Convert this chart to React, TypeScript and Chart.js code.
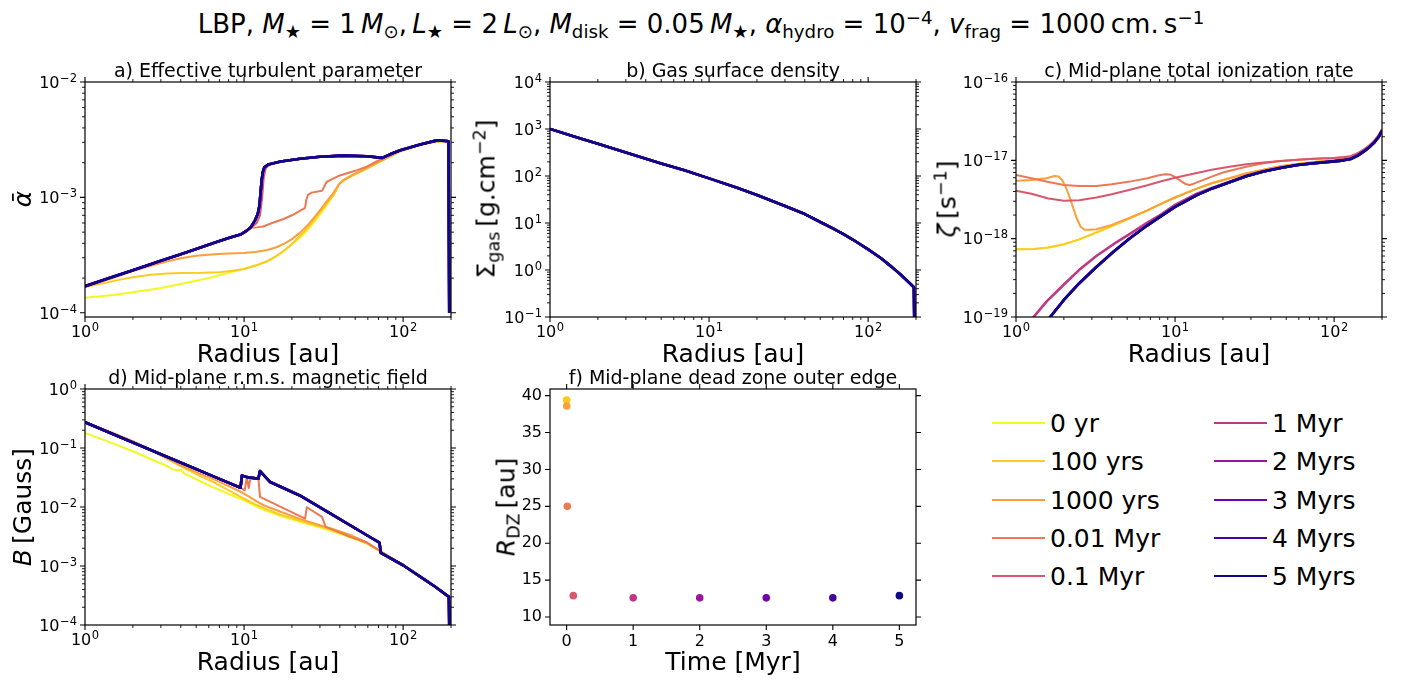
import React, { useEffect, useRef } from "react";
import { Chart, registerables } from "chart.js";

Chart.register(...registerables);

type Pt = [number, number];

const FONT = "'DejaVu Sans', sans-serif";
Chart.defaults.font.family = FONT;
Chart.defaults.color = "#000";

// ---------------- series ----------------
const seriesLabels = ["0 yr", "100 yrs", "1000 yrs", "0.01 Myr", "0.1 Myr", "1 Myr", "2 Myrs", "3 Myrs", "4 Myrs", "5 Myrs"];
const seriesColors = ["#f0f921", "#fcca27", "#fa9f3b", "#ec7953", "#d8576c", "#bd3785", "#9a179d", "#7203a7", "#45049e", "#0d0887"];

// ---------------- a) effective turbulent parameter [radius au, alpha] ----------------
const alpha0yr: Pt[] = [[1, 1.35e-4], [1.5, 1.43e-4], [2, 1.51e-4], [3, 1.64e-4], [4, 1.78e-4], [6, 2.0e-4], [8, 2.22e-4], [10, 2.41e-4], [12, 2.6e-4], [14, 2.8e-4], [16, 3.1e-4], [18, 3.45e-4], [20, 3.9e-4], [22.5, 4.5e-4], [25, 5.2e-4], [28.6, 6.5e-4], [32, 8.0e-4], [35, 9.6e-4], [37.5, 1.13e-3], [39.5, 1.3e-3], [42, 1.4e-3], [47, 1.52e-3], [59, 1.77e-3], [75, 2.1e-3], [96, 2.5e-3], [128, 2.85e-3], [160, 3.05e-3], [193, 3.08e-3], [195, 1e-4]];
const alpha100yrs: Pt[] = [[1, 1.67e-4], [1.3, 1.8e-4], [1.6, 1.92e-4], [2, 2.03e-4], [2.6, 2.14e-4], [3.3, 2.19e-4], [4, 2.21e-4], [5.5, 2.22e-4], [7, 2.25e-4], [8.5, 2.31e-4], [10, 2.4e-4], [12, 2.58e-4], [14, 2.8e-4], [16, 3.1e-4], [18, 3.5e-4], [20, 3.95e-4], [22.5, 4.65e-4], [25, 5.4e-4], [28.6, 6.8e-4], [32, 8.3e-4], [36, 1.02e-3], [38, 1.15e-3], [39.5, 1.3e-3], [42, 1.4e-3], [47, 1.53e-3], [59, 1.78e-3], [75, 2.12e-3], [96, 2.52e-3], [128, 2.86e-3], [160, 3.05e-3], [193, 3.08e-3], [195, 1e-4]];
const alpha1000yrs: Pt[] = [[1, 1.68e-4], [1.5, 2.0e-4], [2, 2.3e-4], [2.6, 2.55e-4], [3.3, 2.8e-4], [4, 2.97e-4], [5, 3.12e-4], [6.5, 3.22e-4], [8, 3.27e-4], [10, 3.3e-4], [12, 3.38e-4], [14, 3.5e-4], [16, 3.7e-4], [18, 4.0e-4], [20, 4.35e-4], [22.5, 4.95e-4], [25, 5.7e-4], [28.6, 7.1e-4], [32, 8.7e-4], [36, 1.07e-3], [38, 1.2e-3], [39.5, 1.3e-3], [42, 1.41e-3], [47, 1.54e-3], [59, 1.8e-3], [75, 2.13e-3], [96, 2.52e-3], [128, 2.87e-3], [160, 3.05e-3], [193, 3.08e-3], [195, 1e-4]];
const alpha001Myr: Pt[] = [[1, 1.7e-4], [1.5, 2.05e-4], [2, 2.34e-4], [3, 2.82e-4], [4, 3.22e-4], [5, 3.57e-4], [6.5, 4.05e-4], [8, 4.45e-4], [9.6, 4.8e-4], [10.3, 5.2e-4], [11, 5.45e-4], [12, 5.5e-4], [13.2, 5.6e-4], [15, 6.0e-4], [17.7, 6.5e-4], [20, 7.0e-4], [24.2, 8.1e-4], [24.6, 9.5e-4], [25.2, 1.05e-3], [26.6, 1.1e-3], [30.9, 1.14e-3], [32, 1.25e-3], [33, 1.36e-3], [36, 1.45e-3], [40, 1.55e-3], [50, 1.7e-3], [59, 1.85e-3], [74, 2.18e-3], [96, 2.54e-3], [128, 2.87e-3], [163, 3.1e-3], [193, 3.08e-3], [195, 1e-4]];
const alpha01Myr: Pt[] = [[1, 1.7e-4], [1.5, 2.05e-4], [2, 2.34e-4], [3, 2.82e-4], [4, 3.22e-4], [5, 3.57e-4], [6.5, 4.05e-4], [8, 4.45e-4], [9.6, 4.8e-4], [10.3, 5.1e-4], [11, 5.4e-4], [12, 6.0e-4], [12.6, 7.0e-4], [13, 1.0e-3], [13.3, 1.5e-3], [13.7, 1.8e-3], [14.5, 1.93e-3], [17, 2.05e-3], [22.5, 2.16e-3], [30, 2.25e-3], [42, 2.3e-3], [59, 2.27e-3], [74, 2.2e-3], [85, 2.4e-3], [96, 2.56e-3], [128, 2.88e-3], [163, 3.1e-3], [193, 3.05e-3], [195, 1e-4]];
const alphaLate: Pt[] = [[1, 1.7e-4], [1.5, 2.05e-4], [2, 2.34e-4], [3, 2.82e-4], [4, 3.22e-4], [5, 3.57e-4], [6.5, 4.05e-4], [8, 4.45e-4], [9.6, 4.8e-4], [10.3, 5.1e-4], [11, 5.5e-4], [11.7, 6.3e-4], [12.2, 7.2e-4], [12.5, 8.5e-4], [12.7, 1.1e-3], [12.9, 1.4e-3], [13.1, 1.65e-3], [13.4, 1.82e-3], [14.2, 1.93e-3], [17, 2.05e-3], [22.5, 2.16e-3], [30, 2.25e-3], [42, 2.3e-3], [59, 2.27e-3], [74, 2.2e-3], [85, 2.4e-3], [96, 2.56e-3], [128, 2.88e-3], [163, 3.12e-3], [188, 3.08e-3], [193, 3.05e-3], [195, 1e-4]];

// ---------------- b) gas surface density [radius au, g/cm2] ----------------
const sigmaGas: Pt[] = [[1, 1000], [1.5, 655], [2, 485], [3, 316], [5, 185], [7, 132], [10, 89], [15, 56], [20, 39.5], [30, 23], [40, 15.5], [50, 10.5], [60, 7.7], [70, 5.8], [80, 4.45], [100, 2.75], [120, 1.8], [140, 1.18], [160, 0.8], [180, 0.55], [194, 0.43], [195, 0.1]];

// ---------------- c) mid-plane ionization rate [radius au, 1/s] ----------------
const zetaEarly: Pt[] = [[1, 7.3e-19], [1.3, 7.4e-19], [1.6, 7.7e-19], [2, 8.5e-19], [2.5, 9.8e-19], [3.2, 1.2e-18], [4, 1.45e-18], [5.2, 1.82e-18], [6.7, 2.3e-18], [8.2, 2.8e-18], [10, 3.35e-18], [13.7, 4.35e-18], [17, 5.1e-18], [22, 5.9e-18], [28, 6.8e-18], [36, 7.6e-18], [46, 8.4e-18], [59, 9.0e-18], [75, 9.5e-18], [100, 1.0e-17], [115, 1.03e-17], [127, 1.07e-17], [140, 1.17e-17], [154, 1.32e-17], [165, 1.47e-17], [178, 1.7e-17], [190, 2.0e-17], [200, 2.4e-17]];
const zeta1000yrs: Pt[] = [[1, 5.5e-18], [1.25, 5.6e-18], [1.55, 5.9e-18], [1.75, 6.3e-18], [1.85, 6.2e-18], [1.95, 5.6e-18], [2.05, 4.6e-18], [2.15, 3.6e-18], [2.27, 2.6e-18], [2.4, 1.85e-18], [2.55, 1.42e-18], [2.7, 1.3e-18], [2.9, 1.3e-18], [3.2, 1.32e-18], [4, 1.5e-18], [5.2, 1.85e-18], [6.7, 2.3e-18], [8.2, 2.8e-18], [10, 3.35e-18], [13.7, 4.35e-18], [17, 5.1e-18], [22, 5.9e-18], [28, 6.8e-18], [36, 7.6e-18], [46, 8.4e-18], [59, 9.0e-18], [75, 9.5e-18], [100, 1.0e-17], [115, 1.03e-17], [127, 1.07e-17], [140, 1.17e-17], [154, 1.32e-17], [165, 1.47e-17], [178, 1.7e-17], [190, 2.0e-17], [200, 2.4e-17]];
const zeta001Myr: Pt[] = [[1, 6.5e-18], [1.25, 5.9e-18], [1.6, 5.3e-18], [2, 4.85e-18], [2.5, 4.7e-18], [3.2, 4.7e-18], [4, 4.95e-18], [5.2, 5.35e-18], [6.7, 5.9e-18], [7.8, 6.4e-18], [8.6, 6.65e-18], [9.3, 6.6e-18], [10, 6.1e-18], [10.8, 5.5e-18], [11.6, 5.0e-18], [12.3, 4.85e-18], [13, 5.0e-18], [14, 5.3e-18], [17, 6.2e-18], [20, 7.0e-18], [28, 8.3e-18], [36, 9.2e-18], [46, 9.8e-18], [59, 1.02e-17], [75, 1.05e-17], [100, 1.07e-17], [115, 1.09e-17], [127, 1.12e-17], [140, 1.22e-17], [154, 1.37e-17], [165, 1.52e-17], [178, 1.75e-17], [190, 2.07e-17], [200, 2.5e-17]];
const zeta01Myr: Pt[] = [[1, 4.1e-18], [1.25, 3.75e-18], [1.6, 3.25e-18], [2, 3.05e-18], [2.5, 3.1e-18], [3.2, 3.35e-18], [4, 3.7e-18], [5.2, 4.2e-18], [6.7, 4.8e-18], [8.2, 5.4e-18], [10, 6.0e-18], [13.7, 6.9e-18], [17, 7.6e-18], [22, 8.3e-18], [28, 8.9e-18], [36, 9.4e-18], [46, 9.8e-18], [59, 1.02e-17], [75, 1.05e-17], [100, 1.07e-17], [115, 1.1e-17], [127, 1.13e-17], [140, 1.23e-17], [154, 1.38e-17], [165, 1.53e-17], [178, 1.77e-17], [190, 2.08e-17], [200, 2.5e-17]];
const zeta1Myr: Pt[] = [[1, 4e-20], [1.29, 1e-19], [1.56, 1.58e-19], [2, 2.6e-19], [2.5, 4e-19], [3.2, 6e-19], [4.1, 8.5e-19], [5.2, 1.15e-18], [6.7, 1.6e-18], [8.2, 2.05e-18], [10, 2.7e-18], [13.7, 3.75e-18], [17, 4.45e-18], [22, 5.35e-18], [28, 6.35e-18], [36, 7.3e-18], [46, 8.1e-18], [59, 8.8e-18], [75, 9.3e-18], [100, 9.8e-18], [115, 1.02e-17], [127, 1.06e-17], [140, 1.16e-17], [154, 1.32e-17], [165, 1.47e-17], [178, 1.7e-17], [190, 2.0e-17], [200, 2.42e-17]];
const zetaLate: Pt[] = [[1, 2.3e-20], [1.3, 5e-20], [1.64, 1e-19], [2, 1.65e-19], [2.5, 2.7e-19], [3.2, 4.35e-19], [4.1, 6.8e-19], [5.2, 1.01e-18], [6.7, 1.48e-18], [8.2, 1.95e-18], [10, 2.55e-18], [13.7, 3.6e-18], [17, 4.35e-18], [22, 5.25e-18], [28, 6.25e-18], [36, 7.2e-18], [46, 8.0e-18], [59, 8.7e-18], [75, 9.2e-18], [100, 9.7e-18], [115, 1.0e-17], [127, 1.04e-17], [140, 1.14e-17], [154, 1.3e-17], [165, 1.45e-17], [178, 1.67e-17], [190, 1.97e-17], [200, 2.36e-17]];

// ---------------- d) mid-plane r.m.s. magnetic field [radius au, Gauss] ----------------
const field0yr: Pt[] = [[1, 0.18], [1.5, 0.12], [2, 0.088], [2.7, 0.062], [3.3, 0.049], [3.6, 0.043], [3.8, 0.0425], [4.0, 0.043], [4.2, 0.037], [4.5, 0.034], [5.5, 0.026], [6.7, 0.0205], [8.5, 0.0155], [10, 0.013], [12, 0.0102], [13.9, 0.0085], [17, 0.007], [22.4, 0.0056], [30, 0.0045], [36.5, 0.0038], [46, 0.0031], [59.2, 0.0024], [72, 0.00178], [100, 0.00103], [135, 6.0e-4], [160, 4.4e-4], [194, 3.0e-4], [195, 1e-4]];
const field100yrs: Pt[] = [[1, 0.273], [1.5, 0.175], [2, 0.128], [3, 0.074], [3.95, 0.05], [5, 0.036], [6.7, 0.025], [8.5, 0.0175], [10, 0.0138], [12, 0.0108], [13.9, 0.0091], [17, 0.0074], [22.4, 0.0059], [30, 0.0047], [36.5, 0.004], [46, 0.0033], [59.2, 0.0024], [72, 0.00178], [100, 0.00103], [135, 6.0e-4], [160, 4.4e-4], [194, 3.0e-4], [195, 1e-4]];
const field1000yrs: Pt[] = [[1, 0.273], [1.5, 0.18], [2, 0.131], [3, 0.077], [3.95, 0.052], [5, 0.039], [6.7, 0.0282], [8.5, 0.021], [10, 0.0168], [12, 0.0125], [13.5, 0.0105], [17, 0.0083], [22.4, 0.0063], [30, 0.0049], [36.5, 0.0042], [46, 0.0034], [59.2, 0.0025], [72, 0.00178], [100, 0.00103], [135, 6.0e-4], [160, 4.4e-4], [194, 3.0e-4], [195, 1e-4]];
const field001Myr: Pt[] = [[1, 0.273], [2, 0.124], [3.95, 0.0575], [6.7, 0.0315], [9.5, 0.0212], [10.1, 0.0192], [10.4, 0.032], [10.7, 0.021], [11, 0.032], [12.3, 0.031], [12.6, 0.0148], [24.2, 0.00635], [24.8, 0.0099], [30.9, 0.0068], [32.6, 0.0046], [46.7, 0.0031], [59.2, 0.0025], [72, 0.00178], [100, 0.00103], [135, 6.0e-4], [160, 4.4e-4], [194, 3.0e-4], [195, 1e-4]];
const fieldLate: Pt[] = [[1, 0.273], [2, 0.124], [3.95, 0.0575], [6.7, 0.0315], [9.5, 0.0212], [9.7, 0.0343], [10.4, 0.0321], [12.3, 0.0302], [12.6, 0.0407], [14.6, 0.0265], [22.4, 0.0157], [36.5, 0.00722], [59.2, 0.00332], [71, 0.0025], [72.4, 0.00167], [100, 0.00103], [135, 6.0e-4], [160, 4.4e-4], [194, 3.0e-4], [195, 1e-4]];

// ---------------- f) dead zone outer edge ----------------
const dzTimes = [0, 0.0001, 0.001, 0.01, 0.1, 1, 2, 3, 4, 5];
const dzRadius = [39.4, 39.4, 38.6, 25.0, 12.9, 12.6, 12.6, 12.6, 12.6, 12.9];

// ---------------- tick labels ----------------
const radiusTicks = [1, 10, 100];
const alphaTicks = [1e-4, 1e-3, 1e-2];
const sigmaTicks = [0.1, 1, 10, 100, 1000, 10000];
const zetaTicks = [1e-19, 1e-18, 1e-17, 1e-16];
const fieldTicks = [1e-4, 1e-3, 1e-2, 1e-1, 1];
const timeTicks = [0, 1, 2, 3, 4, 5];
const dzTicks = [10, 15, 20, 25, 30, 35, 40];

// ---------------- layout ----------------
type Rect = { l: number; t: number; r: number; b: number };
const L = 80, R = 20, T = 30, B = 60;

const expOf = (v: number) => String(Math.round(Math.log10(v))).replace("-", "\u2212");
const pow10Text = (v: number) => "10^" + expOf(v);

function logTicks(min: number, max: number) {
  const majors: number[] = [];
  const minors: number[] = [];
  for (let e = Math.floor(Math.log10(min)) - 1; e <= Math.ceil(Math.log10(max)); e++) {
    for (let k = 1; k < 10; k++) {
      const v = k * Math.pow(10, e);
      if (v < min * (1 - 1e-9) || v > max * (1 + 1e-9)) continue;
      (k === 1 ? majors : minors).push(v);
    }
  }
  return { majors, minors };
}

function drawPow(ctx: CanvasRenderingContext2D, v: number, x: number, y: number, align: "center" | "right") {
  const exp = expOf(v);
  ctx.font = `16px ${FONT}`;
  const wb = ctx.measureText("10").width;
  ctx.font = `11.5px ${FONT}`;
  const we = ctx.measureText(exp).width;
  const total = wb + 0.5 + we;
  const x0 = align === "center" ? x - total / 2 : x - total;
  ctx.textAlign = "left";
  ctx.textBaseline = "alphabetic";
  ctx.font = `16px ${FONT}`;
  ctx.fillText("10", x0, y);
  ctx.font = `11.5px ${FONT}`;
  ctx.fillText(exp, x0 + wb + 0.5, y - 6);
}

function framePlugin(title: string) {
  return {
    id: "frame",
    afterDatasetsDraw(chart: any) {
      const { ctx, chartArea: a } = chart;
      const xs = chart.scales.x;
      const ys = chart.scales.y;
      const set = (s: any) =>
        s.type === "logarithmic" ? logTicks(s.min, s.max) : { majors: s.ticks.map((t: any) => t.value), minors: [] as number[] };
      const xt = set(xs);
      const yt = set(ys);
      ctx.save();
      ctx.strokeStyle = "#000";
      const drawX = (vals: number[], len: number, w: number) => {
        ctx.lineWidth = w;
        ctx.beginPath();
        for (const v of vals) {
          const p = xs.getPixelForValue(v);
          ctx.moveTo(p, a.bottom);
          ctx.lineTo(p, a.bottom + len);
          ctx.moveTo(p, a.top);
          ctx.lineTo(p, a.top - len);
        }
        ctx.stroke();
      };
      const drawY = (vals: number[], len: number, w: number) => {
        ctx.lineWidth = w;
        ctx.beginPath();
        for (const v of vals) {
          const p = ys.getPixelForValue(v);
          ctx.moveTo(a.left, p);
          ctx.lineTo(a.left - len, p);
          ctx.moveTo(a.right, p);
          ctx.lineTo(a.right + len, p);
        }
        ctx.stroke();
      };
      drawX(xt.minors, 3, 0.9);
      drawX(xt.majors, 5, 1.1);
      drawY(yt.minors, 3, 0.9);
      drawY(yt.majors, 5, 1.1);
      ctx.lineWidth = 1.2;
      ctx.strokeRect(a.left, a.top, a.right - a.left, a.bottom - a.top);
      ctx.fillStyle = "#000";
      // power-of-ten tick labels with real superscripts
      if (xs.type === "logarithmic") {
        for (const t of xs.ticks) drawPow(ctx, t.value, xs.getPixelForValue(t.value), a.bottom + 20, "center");
      }
      if (ys.type === "logarithmic") {
        for (const t of ys.ticks) drawPow(ctx, t.value, a.left - 8, ys.getPixelForValue(t.value) + 5.8, "right");
      }
      ctx.font = `19px ${FONT}`;
      ctx.textAlign = "center";
      ctx.textBaseline = "alphabetic";
      ctx.fillText(title, (a.left + a.right) / 2, a.top - 5);
      ctx.restore();
    },
  };
}

function axisCommon(ticks: number[], fmt: (v: number) => string, fixed: "w" | "h", showLabels: boolean) {
  return {
    afterFit: (s: any) => {
      if (fixed === "w") s.width = L;
      else s.height = B;
    },
    afterBuildTicks: (s: any) => {
      s.ticks = ticks.map((v) => ({ value: v }));
    },
    ticks: {
      display: showLabels,
      callback: (v: any) => fmt(Number(v)),
      font: { family: FONT, size: 16 },
      color: "#000",
      padding: fixed === "w" ? 8 : 7,
      maxRotation: 0,
      autoSkip: false,
    },
    grid: { display: false, drawTicks: false },
    border: { display: false },
  };
}

const xTitle = (text: string) => ({
  display: true,
  text,
  font: { family: FONT, size: 25 },
  color: "#000",
  padding: { top: 0, bottom: 7 },
});

interface LogPanelCfg {
  title: string;
  rect: Rect;
  series: Pt[][];
  yMin: number;
  yMax: number;
  yTicks: number[];
}

function LogPanel({ cfg }: { cfg: LogPanelCfg }) {
  const ref = useRef<HTMLCanvasElement>(null);
  const w = cfg.rect.r - cfg.rect.l + L + R;
  const h = cfg.rect.b - cfg.rect.t + T + B;
  useEffect(() => {
    const chart = new Chart(ref.current!, {
      type: "line",
      data: {
        datasets: cfg.series.map((pts, i) => ({
          label: seriesLabels[i],
          data: pts.map(([x, y]) => ({ x, y })),
          borderColor: seriesColors[i],
          backgroundColor: seriesColors[i],
          borderWidth: i >= 5 ? 2.6 : 2,
          pointRadius: 0,
          fill: false,
          order: seriesLabels.length - i,
          tension: 0,
          borderJoinStyle: "round",
        })),
      },
      options: {
        animation: false,
        responsive: false,
        devicePixelRatio: 1,
        layout: { padding: { top: T, right: R, left: 0, bottom: 0 } },
        plugins: { legend: { display: false }, tooltip: { enabled: false } },
        scales: {
          x: { type: "logarithmic", min: 1, max: 200, ...axisCommon(radiusTicks, pow10Text, "h", false), title: xTitle("Radius [au]") },
          y: { type: "logarithmic", min: cfg.yMin, max: cfg.yMax, ...axisCommon(cfg.yTicks, pow10Text, "w", false) },
        },
      } as any,
      plugins: [framePlugin(cfg.title)],
    });
    return () => chart.destroy();
  }, []);
  return <canvas ref={ref} width={w} height={h} style={{ position: "absolute", left: cfg.rect.l - L, top: cfg.rect.t - T, width: w, height: h }} />;
}

function DeadZonePanel({ rect }: { rect: Rect }) {
  const ref = useRef<HTMLCanvasElement>(null);
  const w = rect.r - rect.l + L + R;
  const h = rect.b - rect.t + T + B;
  useEffect(() => {
    const chart = new Chart(ref.current!, {
      type: "scatter",
      data: {
        datasets: [
          {
            label: "R_DZ",
            data: dzTimes.map((t, i) => ({ x: t, y: dzRadius[i] })),
            pointBackgroundColor: seriesColors,
            pointBorderColor: seriesColors,
            pointBorderWidth: 0,
            pointRadius: 3.8,
          },
        ],
      },
      options: {
        animation: false,
        responsive: false,
        devicePixelRatio: 1,
        layout: { padding: { top: T, right: R, left: 0, bottom: 0 } },
        plugins: { legend: { display: false }, tooltip: { enabled: false } },
        scales: {
          x: { type: "linear", min: -0.25, max: 5.25, ...axisCommon(timeTicks, (v) => String(v), "h", true), title: xTitle("Time [Myr]") },
          y: { type: "linear", min: 8.92, max: 40.9, ...axisCommon(dzTicks, (v) => String(v), "w", true) },
        },
      } as any,
      plugins: [framePlugin("f) Mid-plane dead zone outer edge")],
    });
    return () => chart.destroy();
  }, []);
  return <canvas ref={ref} width={w} height={h} style={{ position: "absolute", left: rect.l - L, top: rect.t - T, width: w, height: h }} />;
}

const Sub = ({ children }: { children: any }) => (
  <span style={{ fontSize: "0.7em", position: "relative", top: "0.3em" }}>{children}</span>
);
const Sup = ({ children }: { children: any }) => (
  <span style={{ fontSize: "0.7em", position: "relative", top: "-0.5em" }}>{children}</span>
);

const YTitle = ({ x, y, children }: { x: number; y: number; children: any }) => (
  <div
    style={{
      position: "absolute",
      left: x,
      top: y,
      transform: "translate(-50%, -50%) rotate(-90deg)",
      whiteSpace: "nowrap",
      fontSize: 25,
      lineHeight: 1,
      fontFamily: FONT,
      color: "#000",
    }}
  >
    {children}
  </div>
);

const rectA: Rect = { l: 85, t: 82, r: 451, b: 317 };
const rectB: Rect = { l: 550, t: 82, r: 916, b: 317 };
const rectC: Rect = { l: 1016, t: 82, r: 1382, b: 317 };
const rectD: Rect = { l: 85, t: 389, r: 451, b: 625 };
const rectF: Rect = { l: 550, t: 389, r: 916, b: 625 };

const panels: LogPanelCfg[] = [
  {
    title: "a) Effective turbulent parameter",
    rect: rectA,
    series: [alpha0yr, alpha100yrs, alpha1000yrs, alpha001Myr, alpha01Myr, alphaLate, alphaLate, alphaLate, alphaLate, alphaLate],
    yMin: 9.2e-5,
    yMax: 1e-2,
    yTicks: alphaTicks,
  },
  {
    title: "b) Gas surface density",
    rect: rectB,
    series: seriesLabels.map(() => sigmaGas),
    yMin: 0.1,
    yMax: 1e4,
    yTicks: sigmaTicks,
  },
  {
    title: "c) Mid-plane total ionization rate",
    rect: rectC,
    series: [zetaEarly, zetaEarly, zeta1000yrs, zeta001Myr, zeta01Myr, zeta1Myr, zetaLate, zetaLate, zetaLate, zetaLate],
    yMin: 1e-19,
    yMax: 1e-16,
    yTicks: zetaTicks,
  },
  {
    title: "d) Mid-plane r.m.s. magnetic field",
    rect: rectD,
    series: [field0yr, field100yrs, field1000yrs, field001Myr, fieldLate, fieldLate, fieldLate, fieldLate, fieldLate, fieldLate],
    yMin: 1e-4,
    yMax: 1,
    yTicks: fieldTicks,
  },
];

export default function App() {
  const TS = "\u2009";
  return (
    <div style={{ position: "absolute", left: 0, top: 0, width: 1402, height: 682, background: "#fff", overflow: "hidden", fontFamily: FONT, color: "#000" }}>
      {panels.map((p, i) => (
        <LogPanel key={i} cfg={p} />
      ))}
      <DeadZonePanel rect={rectF} />

      <div style={{ position: "absolute", left: 0, top: 11, width: 1402, textAlign: "center", fontSize: 26, lineHeight: 1, whiteSpace: "nowrap" }}>
        LBP, <i>M</i>
        <Sub>★</Sub> = 1{TS}
        <i>M</i>
        <Sub>⊙</Sub>,{TS}
        <i>L</i>
        <Sub>★</Sub> = 2{TS}
        <i>L</i>
        <Sub>⊙</Sub>, <i>M</i>
        <Sub>disk</Sub> = 0.05{TS}
        <i>M</i>
        <Sub>★</Sub>, <i>α</i>
        <Sub>hydro</Sub> = 10<Sup>−4</Sup>, <i>v</i>
        <Sub>frag</Sub> = 1000{TS}cm.{TS}s<Sup>−1</Sup>
      </div>

      <YTitle x={22} y={199}>
        <i>ᾱ</i>
      </YTitle>
      <YTitle x={486} y={199}>
        Σ<Sub>gas</Sub>{TS}[g.cm<Sup>−2</Sup>]
      </YTitle>
      <YTitle x={947} y={199}>
        <i>ζ</i>{TS}[s<Sup>−1</Sup>]
      </YTitle>
      <YTitle x={22} y={507}>
        <i>B</i>{TS}[Gauss]
      </YTitle>
      <YTitle x={506} y={507}>
        <i>R</i>
        <Sub>DZ</Sub>{TS}[au]
      </YTitle>

      {seriesLabels.map((lab, i) => {
        const col = Math.floor(i / 5);
        const row = i % 5;
        const x = col ? 1214 : 992;
        const y = 423 + row * 38.25;
        return (
          <React.Fragment key={lab}>
            <div style={{ position: "absolute", left: x, top: y - 1, width: 53, height: 2, background: seriesColors[i] }} />
            <div style={{ position: "absolute", left: x + 58, top: y, transform: "translateY(-50%)", fontSize: 25, lineHeight: 1, whiteSpace: "nowrap" }}>
              {lab}
            </div>
          </React.Fragment>
        );
      })}
    </div>
  );
}
